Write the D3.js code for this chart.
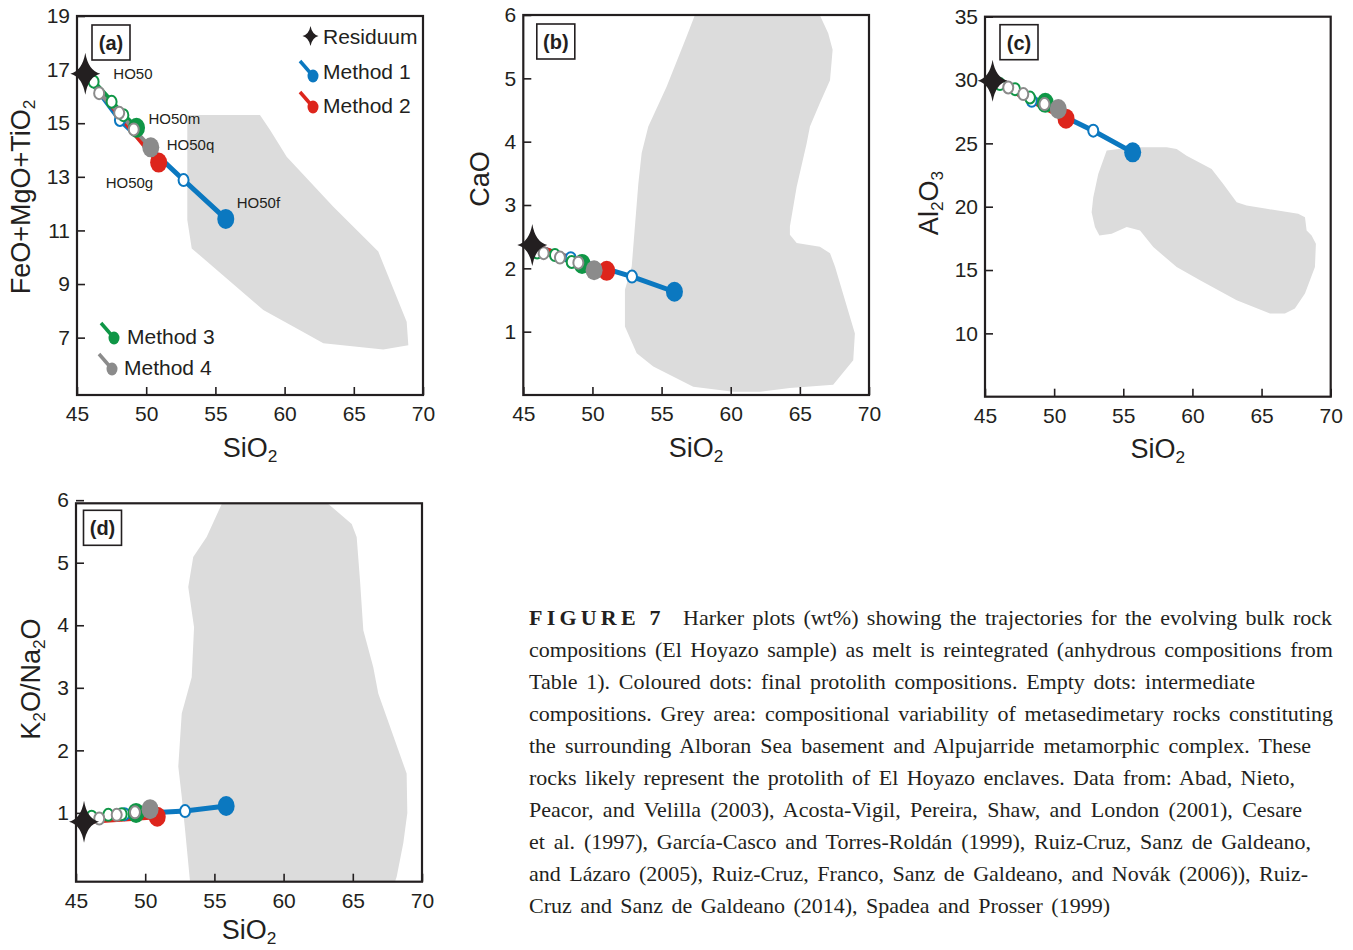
<!DOCTYPE html>
<html>
<head>
<meta charset="utf-8">
<script src="https://cdn.jsdelivr.net/npm/d3@7"></script>
<style>
body { margin: 0; background: #fff; }
svg text { font-family: Arial, "Liberation Sans", sans-serif; fill: #231f20; }
svg text.cap { font-family: "Times New Roman", "Liberation Serif", serif; }
</style>
</head>
<body>
<svg id="fig" width="1353" height="950"></svg>
<script>
// ---- data (wt%) ----
var sio2Ticks = [45, 50, 55, 60, 65, 70];
var aTicks = [7, 9, 11, 13, 15, 17, 19];
var bTicks = [1, 2, 3, 4, 5, 6];
var cTicks = [10, 15, 20, 25, 30, 35];
var dTicks = [1, 2, 3, 4, 5, 6];

var methodNames = ["Method 1", "Method 2", "Method 3", "Method 4"];
var methodColors = ["#0b78c0", "#dd251c", "#0f9646", "#8b8b8b"];
var finalNames = ["HO50f", "HO50g", "HO50m", "HO50q"];

// panel (a) FeO+MgO+TiO2 ; each method: intermediates then final
var aResiduum = [45.6, 16.85];
var aMethod1 = [[48.1, 15.12], [52.7, 12.88], [55.75, 11.43]];
var aMethod2 = [[50.9, 13.53]];
var aMethod3 = [[46.2, 16.55], [47.5, 15.8], [48.35, 15.3], [49.3, 14.83]];
var aMethod4 = [[46.6, 16.12], [48.05, 15.39], [49.1, 14.77], [50.33, 14.1]];
var aArea = [[52.97, 15.31], [58.22, 15.31], [58.95, 14.75], [60.15, 13.75], [63.52, 11.88],
  [66.77, 10.21], [68.82, 7.59], [68.94, 6.72], [67.13, 6.56], [62.8, 6.79], [61.11, 7.28],
  [58.46, 8.03], [53.29, 10.33], [52.97, 11.39]];

// panel (b) CaO
var bResiduum = [45.65, 2.37];
var bMethod1 = [[48.43, 2.16], [52.86, 1.87], [55.93, 1.63]];
var bMethod2 = [[51.03, 1.96]];
var bMethod3 = [[46.0, 2.25], [47.29, 2.21], [48.5, 2.1], [49.25, 2.07]];
var bMethod4 = [[46.47, 2.24], [47.65, 2.17], [48.98, 2.09], [50.12, 1.97]];
var bArea = [[57.41, 6.0], [66.44, 6.0], [67.05, 5.71], [67.37, 5.45], [67.18, 4.97], [66.45, 4.61],
  [65.73, 4.24], [65.49, 3.97], [64.77, 3.29], [64.28, 2.66], [64.28, 2.53], [64.77, 2.4],
  [66.45, 2.34], [67.18, 2.24], [67.54, 2.03], [68.98, 0.97], [68.86, 0.55], [67.41, 0.16],
  [64.28, 0.11], [62.11, 0.05], [60.18, 0.05], [57.29, 0.13], [54.4, 0.45], [53.2, 0.66],
  [52.35, 1.08], [52.35, 1.66], [52.84, 2.03], [53.32, 3.34], [53.56, 3.82], [54.04, 4.24],
  [55.37, 4.87], [56.81, 5.66]];

// panel (c) Al2O3
var cResiduum = [45.55, 29.94];
var cMethod1 = [[48.38, 28.36], [52.83, 26.0], [55.68, 24.29]];
var cMethod2 = [[50.86, 26.95]];
var cMethod3 = [[46.08, 29.68], [47.17, 29.28], [48.25, 28.62], [49.36, 28.2]];
var cMethod4 = [[46.68, 29.41], [47.77, 28.89], [49.3, 28.1], [50.3, 27.71]];
var cArea = [[53.8, 24.43], [55.72, 24.69], [58.14, 24.69], [58.86, 24.56], [59.58, 24.03],
  [61.39, 22.98], [62.23, 21.8], [63.2, 20.35], [63.92, 20.09], [65.37, 19.83], [67.65, 19.44],
  [68.14, 19.17], [68.26, 18.13], [68.62, 17.73], [68.93, 17.08], [68.86, 15.24], [68.14, 13.14],
  [67.41, 11.96], [66.69, 11.57], [65.61, 11.57], [63.2, 12.61], [60.55, 14.19], [58.86, 15.24],
  [57.17, 16.81], [56.21, 18.13], [55.25, 18.39], [54.16, 17.87], [53.27, 17.73], [52.95, 18.39],
  [52.71, 19.57], [52.83, 20.75], [53.19, 22.59]];

// panel (d) K2O/Na2O
var dResiduum = [45.58, 0.86];
var dMethod1 = [[48.5, 0.98], [52.88, 1.03], [55.85, 1.11]];
var dMethod2 = [[50.87, 0.94]];
var dMethod3 = [[46.13, 0.94], [47.33, 0.97], [48.3, 0.98], [49.34, 1.0]];
var dMethod4 = [[46.68, 0.91], [47.94, 0.97], [49.26, 1.01], [50.35, 1.06]];
var dArea = [[55.53, 5.94], [63.23, 5.94], [64.92, 5.62], [65.28, 5.41], [65.52, 4.72],
  [65.76, 3.92], [66.48, 3.33], [66.84, 2.91], [68.89, 1.63], [68.94, 1.0], [68.65, 0.52],
  [68.17, -0.02], [68.05, -0.1], [53.24, -0.1], [52.88, 0.73], [52.64, 1.26], [52.39, 1.74],
  [52.64, 2.59], [53.36, 3.17], [53.53, 3.97], [53.11, 4.61], [53.47, 5.09], [54.44, 5.41]];

var captionLines = [
  "Harker plots (wt%) showing the trajectories for the evolving bulk rock",
  "compositions (El Hoyazo sample) as melt is reintegrated (anhydrous compositions from",
  "Table 1). Coloured dots: final protolith compositions. Empty dots: intermediate",
  "compositions. Grey area: compositional variability of metasedimetary rocks constituting",
  "the surrounding Alboran Sea basement and Alpujarride metamorphic complex. These",
  "rocks likely represent the protolith of El Hoyazo enclaves. Data from: Abad, Nieto,",
  "Peacor, and Velilla (2003), Acosta-Vigil, Pereira, Shaw, and London (2001), Cesare",
  "et al. (1997), Garc\u00eda-Casco and Torres-Rold\u00e1n (1999), Ruiz-Cruz, Sanz de Galdeano,",
  "and L\u00e1zaro (2005), Ruiz-Cruz, Franco, Sanz de Galdeano, and Nov\u00e1k (2006)), Ruiz-",
  "Cruz and Sanz de Galdeano (2014), Spadea and Prosser (1999)"
];

// ---- layout ----
var ink = "#231f20";
var svg = d3.select("#fig");

var panels = [
  { id: "a", left: 77, top: 16, w: 346, h: 379, ydom: [4.86, 19], yticks: aTicks,
    res: aResiduum, methods: [aMethod1, aMethod2, aMethod3, aMethod4], area: aArea,
    ylab: [["FeO+MgO+TiO", ""], ["2", "sub"]], ylx: 30, yly: 197, box: [15, 9], xly: 457 },
  { id: "b", left: 523.3, top: 15, w: 345.7, h: 380, ydom: [0, 6], yticks: bTicks,
    res: bResiduum, methods: [bMethod1, bMethod2, bMethod3, bMethod4], area: bArea,
    ylab: [["CaO", ""]], ylx: 489, yly: 179, box: [13.5, 9], xly: 457 },
  { id: "c", left: 985, top: 16.7, w: 345.7, h: 380, ydom: [5, 35], yticks: cTicks,
    res: cResiduum, methods: [cMethod1, cMethod2, cMethod3, cMethod4], area: cArea,
    ylab: [["Al", ""], ["2", "sub"], ["O", "up"], ["3", "sub"]], ylx: 938, yly: 203, box: [15, 8], xly: 458 },
  { id: "d", left: 76, top: 503.3, w: 346, h: 378.4, ydom: [-0.1, 5.95], yticks: dTicks,
    res: dResiduum, methods: [dMethod1, dMethod2, dMethod3, dMethod4], area: dArea,
    ylab: [["K", ""], ["2", "sub"], ["O/Na", "up"], ["2", "sub"], ["O", "up"]], ylx: 40, yly: 679, box: [7.5, 7], xly: 939 }
];

function starPath(w, h, r) {
  return "M0," + (-h) + "Q" + r + "," + (-r) + " " + w + ",0Q" + r + "," + r + " 0," + h +
    "Q" + (-r) + "," + r + " " + (-w) + ",0Q" + (-r) + "," + (-r) + " 0," + (-h) + "Z";
}

function addLabel(sel, parts, size) {
  parts.forEach(function (p) {
    var t = sel.append("tspan").text(p[0]);
    if (p[1] === "sub") t.attr("font-size", size * 0.64).attr("dy", size * 0.2);
    else if (p[1] === "up") t.attr("dy", -size * 0.2);
  });
}

var drawOrder = [0, 1, 2, 3];
var fmt = d3.format("d");

panels.forEach(function (p) {
  var g = svg.append("g");
  var x = d3.scaleLinear().domain([45, 70]).range([p.left, p.left + p.w]);
  var y = d3.scaleLinear().domain(p.ydom).range([p.top + p.h, p.top]);

  g.append("clipPath").attr("id", "clip" + p.id)
    .append("rect").attr("x", p.left).attr("y", p.top).attr("width", p.w).attr("height", p.h);

  // grey field of metasediments
  g.append("path").datum(p.area)
    .attr("clip-path", "url(#clip" + p.id + ")")
    .attr("d", d3.line().x(function (d) { return x(d[0]); }).y(function (d) { return y(d[1]); })
      .curve(d3.curveLinearClosed))
    .attr("fill", "#dcdcdc");

  // axes (inward ticks)
  var xa = g.append("g").attr("transform", "translate(0," + (p.top + p.h) + ")")
    .call(d3.axisBottom(x).tickValues(sio2Ticks).tickFormat(fmt)
      .tickSize(-8).tickSizeOuter(0).tickPadding(11));
  var ya = g.append("g").attr("transform", "translate(" + p.left + ",0)")
    .call(d3.axisLeft(y).tickValues(p.yticks).tickFormat(fmt)
      .tickSize(-8).tickSizeOuter(0).tickPadding(7));
  [xa, ya].forEach(function (a) {
    a.select(".domain").remove();
    a.attr("font-size", 21).attr("font-family", null);
    a.selectAll("line").attr("stroke", ink).attr("stroke-width", 1.6);
    a.selectAll("text").attr("fill", ink);
  });

  g.append("rect").attr("x", p.left).attr("y", p.top).attr("width", p.w).attr("height", p.h)
    .attr("fill", "none").attr("stroke", ink).attr("stroke-width", 2.2);

  // trajectories
  var line = d3.line().x(function (d) { return x(d[0]); }).y(function (d) { return y(d[1]); });
  drawOrder.forEach(function (m) {
    g.append("path").datum([p.res].concat(p.methods[m]))
      .attr("d", line).attr("fill", "none")
      .attr("stroke", methodColors[m]).attr("stroke-width", m === 3 ? 4 : 5)
      .attr("stroke-linecap", "round");
  });
  drawOrder.forEach(function (m) {
    var pts = p.methods[m];
    var mids = pts.slice(0, pts.length - 1);
    var last = pts[pts.length - 1];
    g.selectAll(null).data(mids).enter().append("ellipse")
      .attr("cx", function (d) { return x(d[0]); })
      .attr("cy", function (d) { return y(d[1]); })
      .attr("rx", 5).attr("ry", 6)
      .attr("fill", "#fff").attr("stroke", methodColors[m]).attr("stroke-width", 2);
    g.append("ellipse").attr("cx", x(last[0])).attr("cy", y(last[1]))
      .attr("rx", 8.5).attr("ry", 10).attr("fill", methodColors[m]);
  });

  // residuum star
  g.append("path").attr("d", starPath(15, 21, 3))
    .attr("transform", "translate(" + x(p.res[0]) + "," + y(p.res[1]) + ")")
    .attr("fill", ink);

  // panel tag
  g.append("rect").attr("x", p.left + p.box[0]).attr("y", p.top + p.box[1])
    .attr("width", 38).attr("height", 35)
    .attr("fill", "#fff").attr("stroke", ink).attr("stroke-width", 1.6);
  g.append("text").attr("x", p.left + p.box[0] + 19).attr("y", p.top + p.box[1] + 25)
    .attr("text-anchor", "middle").attr("font-size", 20).attr("font-weight", "bold")
    .text("(" + p.id + ")");

  // axis titles
  var xt = g.append("text").attr("x", p.left + p.w / 2).attr("y", p.xly)
    .attr("text-anchor", "middle").attr("font-size", 27);
  addLabel(xt, [["SiO", ""], ["2", "sub"]], 27);
  var yt = g.append("text").attr("transform", "translate(" + p.ylx + "," + p.yly + ") rotate(-90)")
    .attr("text-anchor", "middle").attr("font-size", 27);
  addLabel(yt, p.ylab, 27);

  p.x = x; p.y = y; p.g = g;
});

// ---- annotations and legend in panel (a) ----
var pa = panels[0];
var annot = [
  { pt: aResiduum, name: "HO50", dx: 28, dy: 5 },
  { pt: aMethod1[aMethod1.length - 1], name: finalNames[0], dx: 11, dy: -11 },
  { pt: aMethod2[0], name: finalNames[1], dx: -53, dy: 25 },
  { pt: aMethod3[aMethod3.length - 1], name: finalNames[2], dx: 12, dy: -4 },
  { pt: aMethod4[aMethod4.length - 1], name: finalNames[3], dx: 16, dy: 3 }
];
annot.forEach(function (a) {
  pa.g.append("text").attr("x", pa.x(a.pt[0]) + a.dx).attr("y", pa.y(a.pt[1]) + a.dy)
    .attr("font-size", 15).text(a.name);
});

var leg = pa.g.append("g");
leg.append("path").attr("d", starPath(8, 10, 1.6))
  .attr("transform", "translate(310.5,36)").attr("fill", ink);
leg.append("text").attr("x", 323).attr("y", 44).attr("font-size", 21).text("Residuum");
var legPos = [[313, 76, 323, 79], [313, 107, 323, 113], [114, 338, 127, 344], [112, 369, 124, 375]];
methodNames.forEach(function (n, i) {
  var q = legPos[i];
  leg.append("line").attr("x1", q[0] - 13).attr("y1", q[1] - 15).attr("x2", q[0]).attr("y2", q[1])
    .attr("stroke", methodColors[i]).attr("stroke-width", 3.5);
  leg.append("ellipse").attr("cx", q[0]).attr("cy", q[1]).attr("rx", 5.5).attr("ry", 6.5)
    .attr("fill", methodColors[i]);
  leg.append("text").attr("x", q[2]).attr("y", q[3]).attr("font-size", 21).text(n);
});

// ---- caption ----
var capEnds = [1332, 1333, 1255, 1333, 1311, 1295, 1302, 1311, 1308, 1110];
var cap = svg.append("g");
captionLines.forEach(function (s, i) {
  var t = cap.append("text").attr("class", "cap").attr("x", 529).attr("y", 625 + i * 32)
    .attr("font-size", 22);
  var body;
  var start = 529;
  if (i === 0) {
    t.append("tspan").attr("font-weight", "bold").attr("letter-spacing", 4.2).text("FIGURE 7");
    body = t.append("tspan").attr("x", 683).text(s);
    start = 683;
  } else {
    body = t.append("tspan").text(s);
  }
  var natural = body.node().getComputedTextLength();
  var spaces = s.split(" ").length - 1;
  var ws = (capEnds[i] - start - natural) / spaces;
  if (spaces > 0) body.attr("word-spacing", ws);
});
</script>
</body>
</html>
